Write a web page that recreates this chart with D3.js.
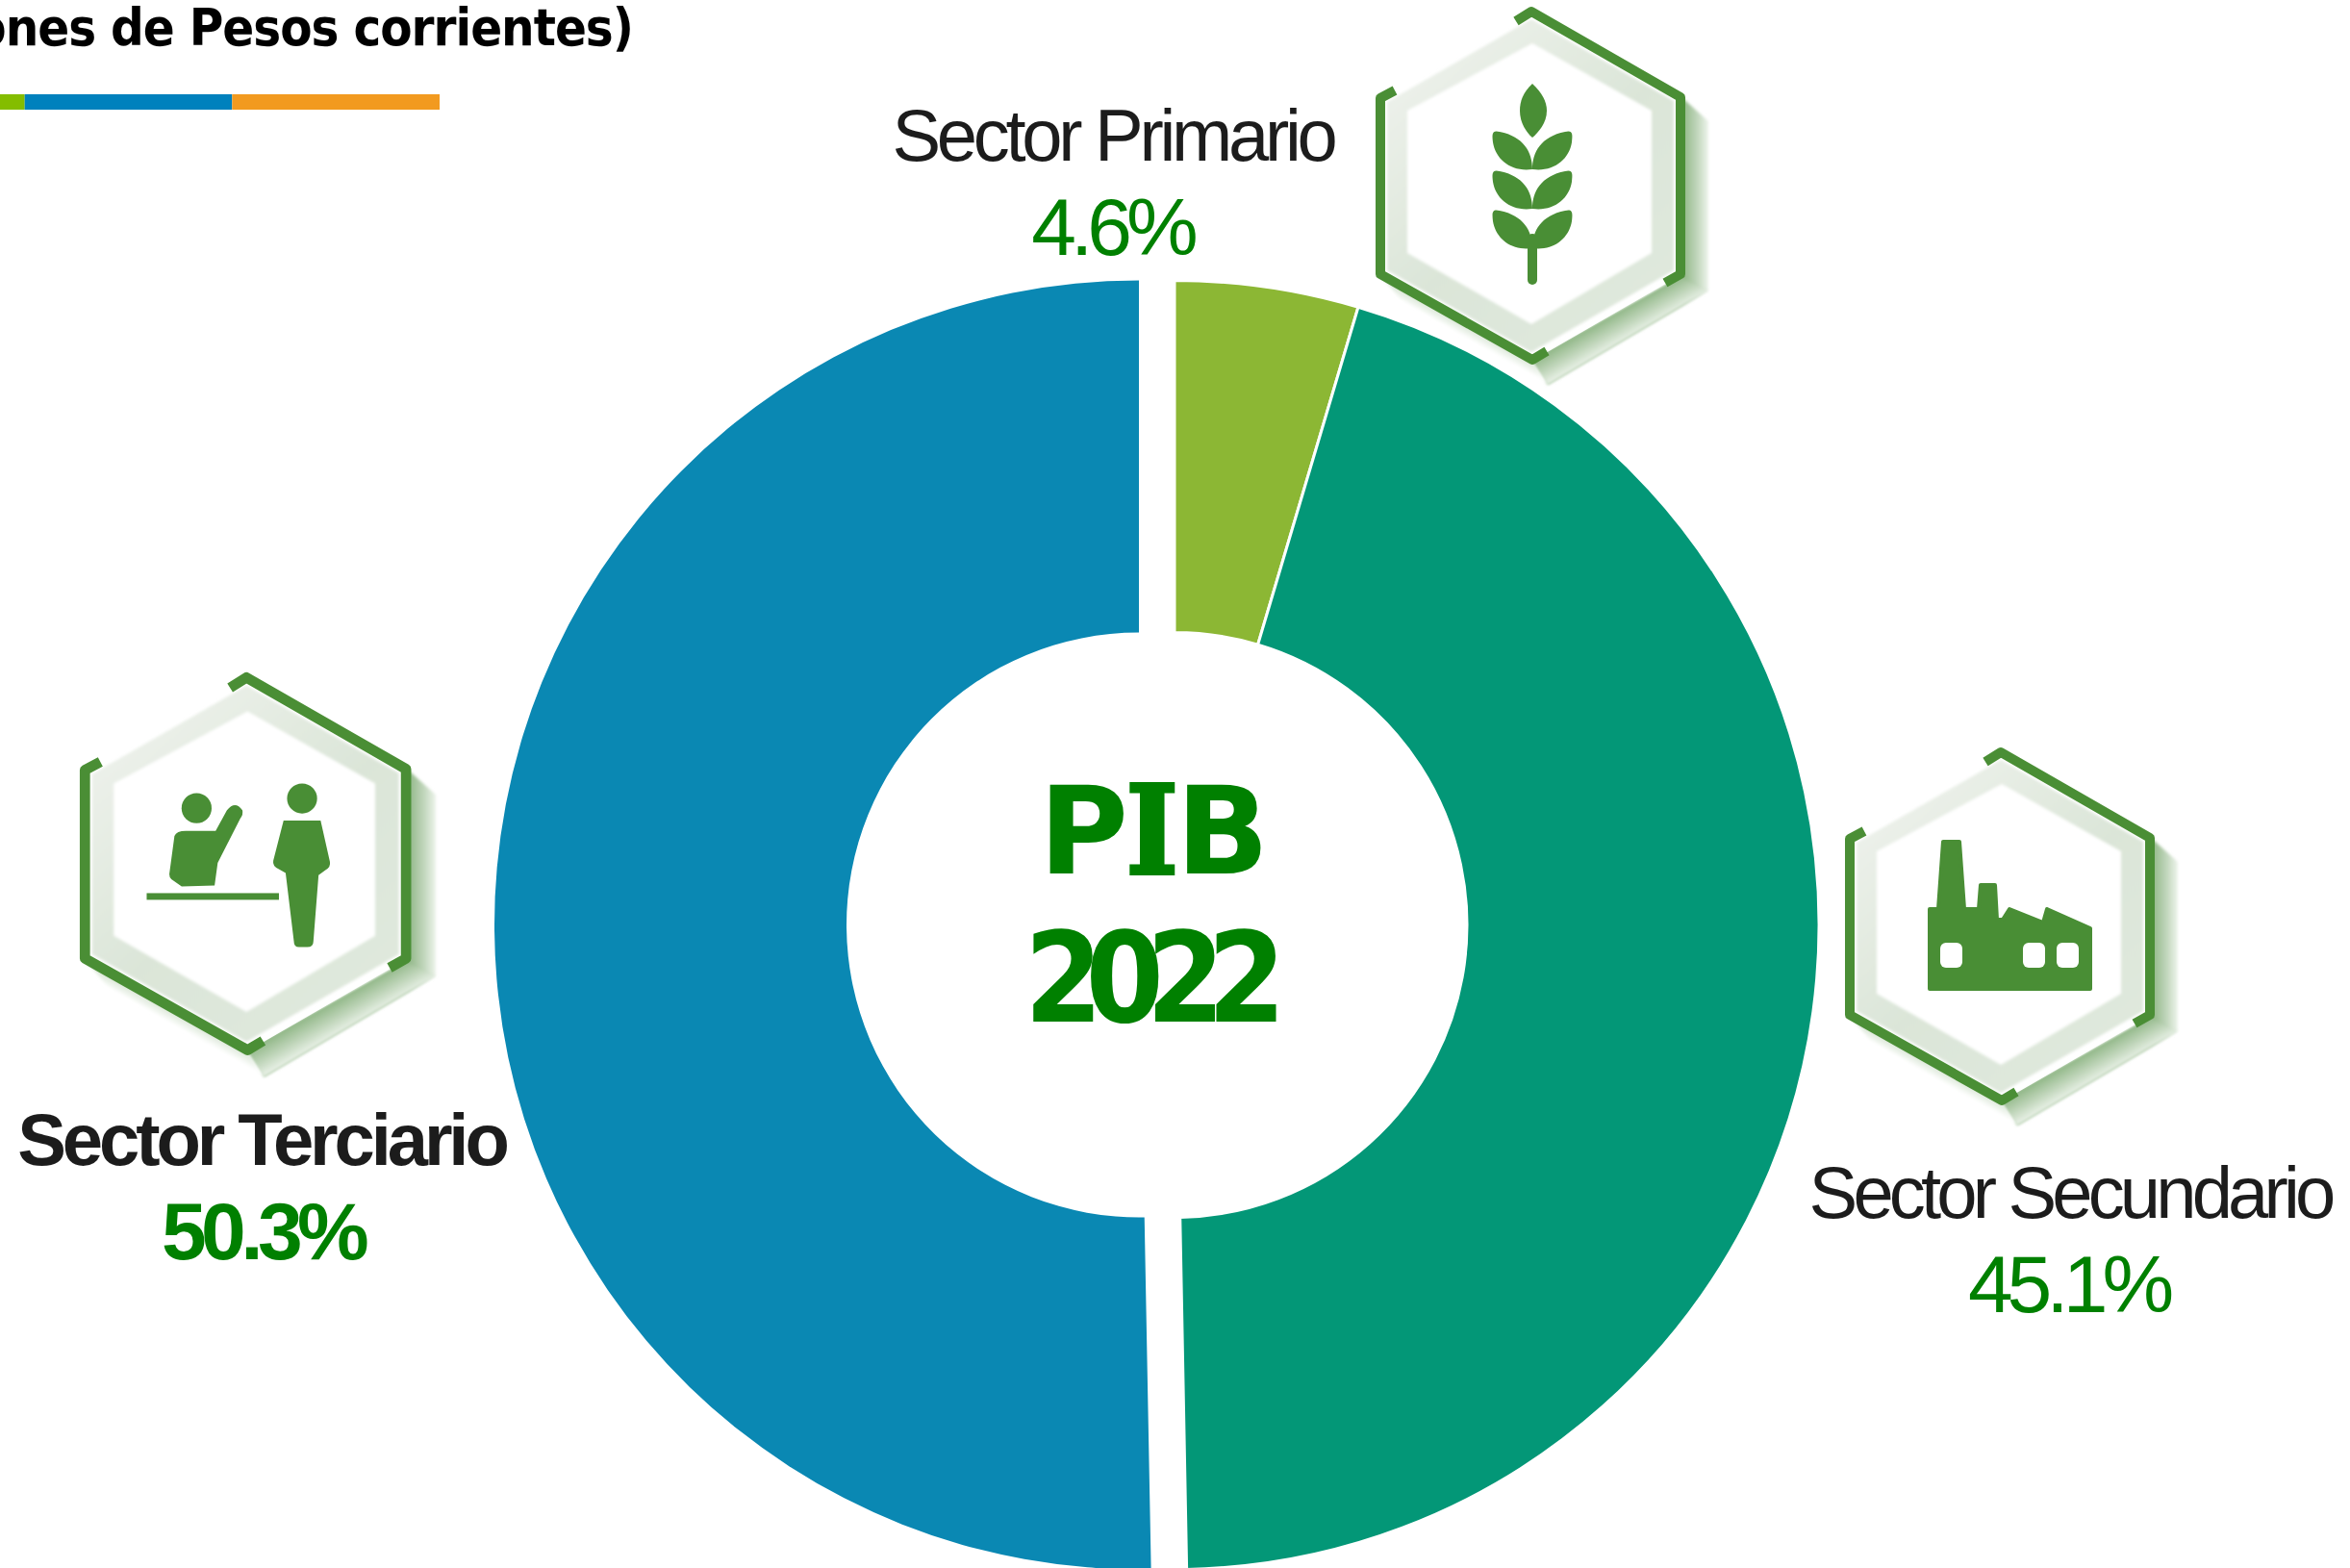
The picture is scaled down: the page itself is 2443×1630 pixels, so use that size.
<!DOCTYPE html>
<html>
<head>
<meta charset="utf-8">
<script src="https://cdnjs.cloudflare.com/ajax/libs/d3/7.8.5/d3.min.js"></script>
<style>
  html, body { margin: 0; padding: 0; background: #fff; overflow: hidden; }
  svg { display: block; }
</style>
</head>
<body>
<svg id="chart" width="2443" height="1630"></svg>
<script>
const sectors = ["Sector Primario", "Sector Secundario", "Sector Terciario"];
const shares = [4.6, 45.1, 50.3];
const shareLabels = ["4.6%", "45.1%", "50.3%"];
const sliceColors = ["#8cb734", "#039777", "#0a88b3"];
const stripColors = ["#84bd00", "#0081bd", "#f29a1f"];
const centerYear = "2022";
const title = "(Millones de Pesos corrientes)";

const svg = d3.select("#chart");
const cx = 1221, cy = 961.5;
const outer = 670, inner = 304;
const explode = 37; // the blue slice is pulled out to the left
const iconGreen = "#4a8e35";
const labelGreen = "#008000";

const defs = svg.append("defs");
function blur(id, amount) {
  defs.append("filter").attr("id", id)
    .attr("x", "-20%").attr("y", "-20%").attr("width", "140%").attr("height", "140%")
    .append("feGaussianBlur").attr("stdDeviation", amount);
}
blur("soft", 1.6);
blur("softIcon", 0.5);

function gradient(id, x1, y1, x2, y2, stops) {
  const g = defs.append("linearGradient").attr("id", id)
    .attr("gradientUnits", "userSpaceOnUse")
    .attr("x1", x1).attr("y1", y1).attr("x2", x2).attr("y2", y2);
  stops.forEach(s => g.append("stop").attr("offset", s[0]).attr("stop-color", s[1]));
}
gradient("shadeRight", 318, 0, 345, 0, [[0, "#8fb685"], [0.6, "#c4d8bf"], [1, "#eef4ec"]]);
gradient("shadeBottom", 232, 318, 252, 353, [[0, "#7aa96f"], [0.55, "#bcd3b6"], [1, "#f4f8f3"]]);
gradient("shadeLeft", 90, 318, 80, 336, [[0, "#b9d1b2"], [1, "#ffffff"]]);
gradient("ring", 40, 40, 300, 330, [[0, "#eef2ec"], [0.5, "#dbe5d8"], [1, "#e0e9dd"]]);

// title and strip, cut by the left edge
svg.append("text")
  .attr("x", 658).attr("y", 47)
  .attr("text-anchor", "end")
  .attr("font-family", "'DejaVu Sans Condensed', 'DejaVu Sans'")
  .attr("font-stretch", "condensed")
  .attr("font-weight", "bold")
  .attr("font-size", 54)
  .attr("letter-spacing", -1)
  .attr("fill", "#000")
  .text(title);

const stripX = d3.scaleLinear().domain([0, 3]).range([-190, 457]);
svg.selectAll("rect.strip")
  .data(stripColors)
  .enter().append("rect")
  .attr("class", "strip")
  .attr("x", (d, i) => stripX(i))
  .attr("y", 98)
  .attr("width", stripX(1) - stripX(0))
  .attr("height", 16)
  .attr("fill", d => d);

// doughnut
const pie = d3.pie().sort(null).value(d => d);
const arc = d3.arc().innerRadius(inner).outerRadius(outer);
const slices = pie(shares);

svg.append("g")
  .selectAll("path")
  .data(slices)
  .enter().append("path")
  .attr("d", arc)
  .attr("fill", (d, i) => sliceColors[i])
  .attr("stroke", "#fff")
  .attr("stroke-width", (d, i) => i === 2 ? 0 : 3)
  .attr("transform", (d, i) => i === 2
    ? `translate(${cx - explode},${cy})`
    : `translate(${cx},${cy})`);

// centre text; the I comes from the serif face because the reference I has serifs
const pib = svg.append("text")
  .attr("x", 1080).attr("y", 908)
  .attr("font-family", "DejaVu Sans")
  .attr("font-weight", "bold")
  .attr("font-size", 127)
  .attr("fill", labelGreen);
pib.append("tspan").text("P");
pib.append("tspan")
  .attr("font-family", "'DejaVu Serif Condensed', 'DejaVu Serif'")
  .attr("font-stretch", "condensed")
  .attr("stroke", labelGreen)
  .attr("stroke-width", 4)
  .attr("dx", -2)
  .text("I");
pib.append("tspan").attr("dx", -2).text("B");

svg.append("text")
  .attr("x", 1065).attr("y", 1062)
  .attr("font-family", "'DejaVu Sans Condensed', 'DejaVu Sans'")
  .attr("font-stretch", "condensed")
  .attr("font-weight", "bold")
  .attr("font-size", 130)
  .attr("letter-spacing", -18)
  .attr("fill", labelGreen)
  .text(centerYear);

// labels
const labelPos = [[1157, 167], [2152, 1266], [272, 1211]];
const labelSpacing = [-4.3, -4.85, -4.1];
const pctPos = [[1156, 265], [2150, 1364], [273, 1309]];
const labels = svg.append("g");
sectors.forEach((s, i) => {
  labels.append("text")
    .attr("x", labelPos[i][0]).attr("y", labelPos[i][1])
    .attr("text-anchor", "middle")
    .attr("font-family", "Liberation Sans")
    .attr("font-size", 76)
    .attr("font-weight", i === 2 ? "bold" : "normal")
    .attr("letter-spacing", labelSpacing[i])
    .attr("fill", "#1c1c1c")
    .text(s);
  labels.append("text")
    .attr("x", pctPos[i][0]).attr("y", pctPos[i][1])
    .attr("text-anchor", "middle")
    .attr("font-family", "Liberation Sans")
    .attr("font-size", 84)
    .attr("font-weight", i === 2 ? "bold" : "normal")
    .attr("letter-spacing", i === 2 ? -5.6 : -6)
    .attr("fill", labelGreen)
    .text(shareLabels[i]);
});

// hexagon badge, local box has the outline from about 4..316 x 3..367
function badge(x, y, scale, drawIcon) {
  const g = svg.append("g").attr("transform", `translate(${x},${y}) scale(${scale})`);
  g.append("path").attr("d", "M316,92 L345,118 L345,294 L178,392 L165,368 L316,280 Z")
    .attr("fill", "url(#shadeRight)").attr("filter", "url(#soft)");
  g.append("path").attr("d", "M316,280 L345,294 L178,392 L160,366 Z")
    .attr("fill", "url(#shadeBottom)").attr("filter", "url(#soft)");
  g.append("path").attr("d", "M4,278 L162,368 L178,392 L24,302 Z")
    .attr("fill", "url(#shadeLeft)").attr("filter", "url(#soft)");
  g.append("path").attr("d", "M161,3 L316,92 L316,278 L162,367 L4,278 L4,94 Z").attr("fill", "#fff");
  g.append("path").attr("d", "M161,12 L309,97 L309,273 L161,358 L11,273 L11,98 Z")
    .attr("fill", "url(#ring)").attr("filter", "url(#soft)");
  g.append("path").attr("d", "M162,37 L286,107 L286,255 L161,329 L32,255 L32,107 Z")
    .attr("fill", "#fff").attr("filter", "url(#soft)");
  // broken outline
  const line = d3.line();
  const parts = [
    [[145, 14], [161, 4], [316, 93], [316, 277], [300, 286]],
    [[19, 86], [4, 94], [4, 277], [162, 366], [177, 357]]
  ];
  g.selectAll("path.edge")
    .data(parts)
    .enter().append("path")
    .attr("class", "edge")
    .attr("d", line)
    .attr("fill", "none")
    .attr("stroke", iconGreen)
    .attr("stroke-width", 10)
    .attr("stroke-linejoin", "round");
  drawIcon(g.append("g").attr("fill", iconGreen).attr("filter", "url(#softIcon)"));
}

function wheat(g) {
  g.append("path").attr("d", "M162,79 C172,88 177,98 177,107 C177,120 168,130 162,135 C156,130 149,120 149,107 C149,98 152,88 162,79 Z");
  [0, 41, 82].forEach(dy => {
    const leaf = `M162,${168 + dy} C162,${150 + dy} 153,${134 + dy} 128,${129 + dy} C120,${127 + dy} 120,${131 + dy} 121,${140 + dy} C124,${158 + dy} 140,${171 + dy} 162,${168 + dy} Z`;
    g.append("path").attr("d", leaf);
    g.append("path").attr("d", leaf).attr("transform", "translate(324,0) scale(-1,1)");
  });
  g.append("rect").attr("x", 157).attr("y", 235).attr("width", 10).attr("height", 53).attr("rx", 5);
}

function factory(g) {
  g.append("path")
    .attr("stroke", iconGreen).attr("stroke-width", 4).attr("stroke-linejoin", "round")
    .attr("d", "M87,167 L96,167 L101,97 L118,97 L123,167 L138,167 L140,142 L155,142 L157,178 L163,178 L170,167 L205,181 L209,167 L254,187 L254,250 L87,250 Z");
  [[98, 202], [184, 202], [219, 202]].forEach(w => {
    g.append("rect").attr("x", w[0]).attr("y", w[1]).attr("width", 23).attr("height", 26).attr("rx", 6).attr("fill", "#fff");
  });
}

function people(g) {
  g.append("circle").attr("cx", 112.5).attr("cy", 131).attr("r", 14.6);
  g.append("path").attr("d", "M91,158 Q93,153 102,153 L131,153 L142,133 Q150,123 157,133 Q158,137 155,141 L133,184 L130,206 L98,207 L88,200 Q86,198 86,195 Z");
  g.append("rect").attr("x", 64).attr("y", 213.5).attr("width", 128.5).attr("height", 6.5);
  g.append("circle").attr("cx", 215).attr("cy", 121.5).attr("r", 14.6);
  g.append("path").attr("d", "M197,143 L233,143 L242,183 Q243,188 238,191 L231,196 L226,260 Q226,266 220,266 L212,266 Q207,266 207,260 L199,194 L192,190 Q186,187 187,182 Z");
}

badge(1431, 8, 1.0, wheat);
badge(1919, 778, 1.0, factory);
badge(84, 700, 1.07, people);
</script>
</body>
</html>
